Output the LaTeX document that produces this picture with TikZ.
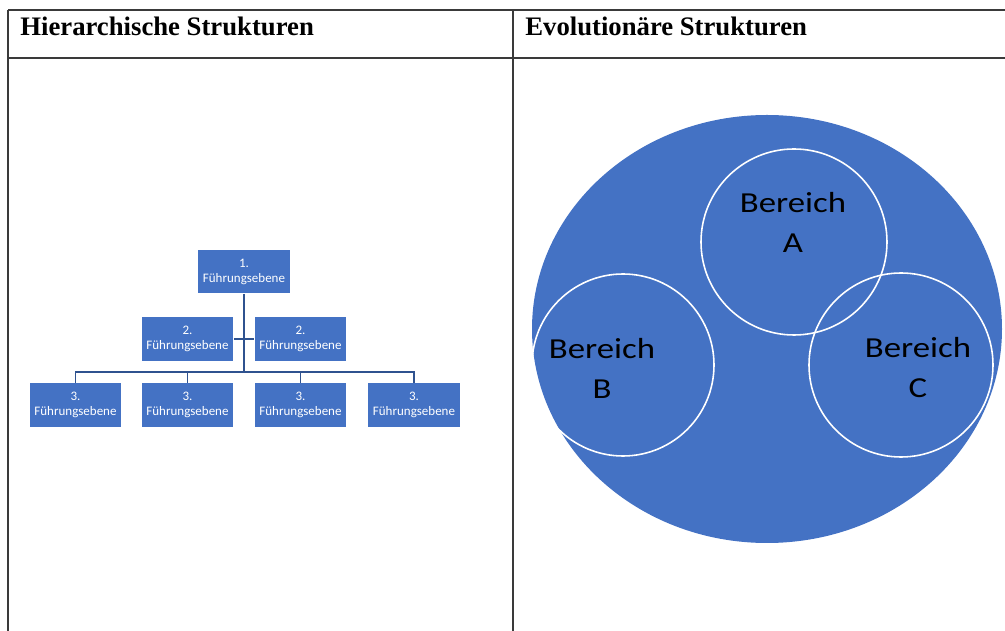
\documentclass[tikz,border=0pt]{standalone}
\usepackage{fontspec}
\setmainfont{Liberation Serif}
\newfontfamily\calibri{Carlito}
\definecolor{officeblue}{HTML}{4472C4}
\definecolor{linkblue}{HTML}{2F528F}
\definecolor{rulegray}{HTML}{3A3A3A}
\begin{document}
\begin{tikzpicture}[x=0.02cm,y=-0.02cm,
    rule/.style={draw=rulegray,line width=0.9pt},
    head/.style={anchor=base west,inner sep=0pt,font=\bfseries\fontsize{15.2}{17}\selectfont},
    levelbox/.style={fill=officeblue,text=white,minimum width=1.84cm,minimum height=0.88cm,
        inner sep=0pt,align=center,font=\calibri\fontsize{7.4}{8.6}\selectfont},
    link/.style={draw=linkblue,line width=1pt},
    ring/.style={draw=white,line width=0.9pt},
    area/.style={align=center,inner sep=0pt,xscale=1.2,transform shape,
        font=\calibri\fontsize{16.5}{22.8}\selectfont}]
        \useasboundingbox (0,0) rectangle (1005,631);
        %% table
        \draw[rule] (8,10) -- (1005,10);
        \draw[rule] (8,58) -- (1005,58);
        \draw[rule] (8,10) -- (8,631);
        \draw[rule] (513,10) -- (513,631);
        \node[head] (hleft) at (20,36) {Hierarchische Strukturen};
        \node[head] (hright) at (525,36) {Evolutionäre Strukturen};
        %% hierarchy
        \node[levelbox] (top) at (244,271.5) {1.\\Führungsebene};
        \node[levelbox] (ltwoa) at (187.5,339) {2.\\Führungsebene};
        \node[levelbox] (ltwob) at (300.5,339) {2.\\Führungsebene};
        \node[levelbox] (lthreea) at (75.5,405) {3.\\Führungsebene};
        \node[levelbox] (lthreeb) at (187.5,405) {3.\\Führungsebene};
        \node[levelbox] (lthreec) at (300.5,405) {3.\\Führungsebene};
        \node[levelbox] (lthreed) at (414,405) {3.\\Führungsebene};
        \coordinate (bus) at (245,372);
        \draw[link] (top.south) -- (top.south |- bus);
        \draw[link] (ltwoa.east) -- (ltwob.west);
        \draw[link] (lthreea.north) |- (bus) -| (lthreed.north);
        \foreach \n in {lthreeb,lthreec}
            \draw[link] (\n.north) -- (\n.north |- bus);
        %% evolution
        \fill[officeblue] (767,329) ellipse [x radius=235, y radius=214];
        \draw[ring] (794,242) circle [radius=93];
        \draw[ring] (623,365) circle [radius=91];
        \draw[ring] (901,365) circle [radius=92];
        \node[area] (bera) at (793,222) {Bereich\\A};
        \node[area] (berb) at (602,368) {Bereich\\B};
        \node[area] (berc) at (918,368) {Bereich\\C};
    \end{tikzpicture}
\end{document}
